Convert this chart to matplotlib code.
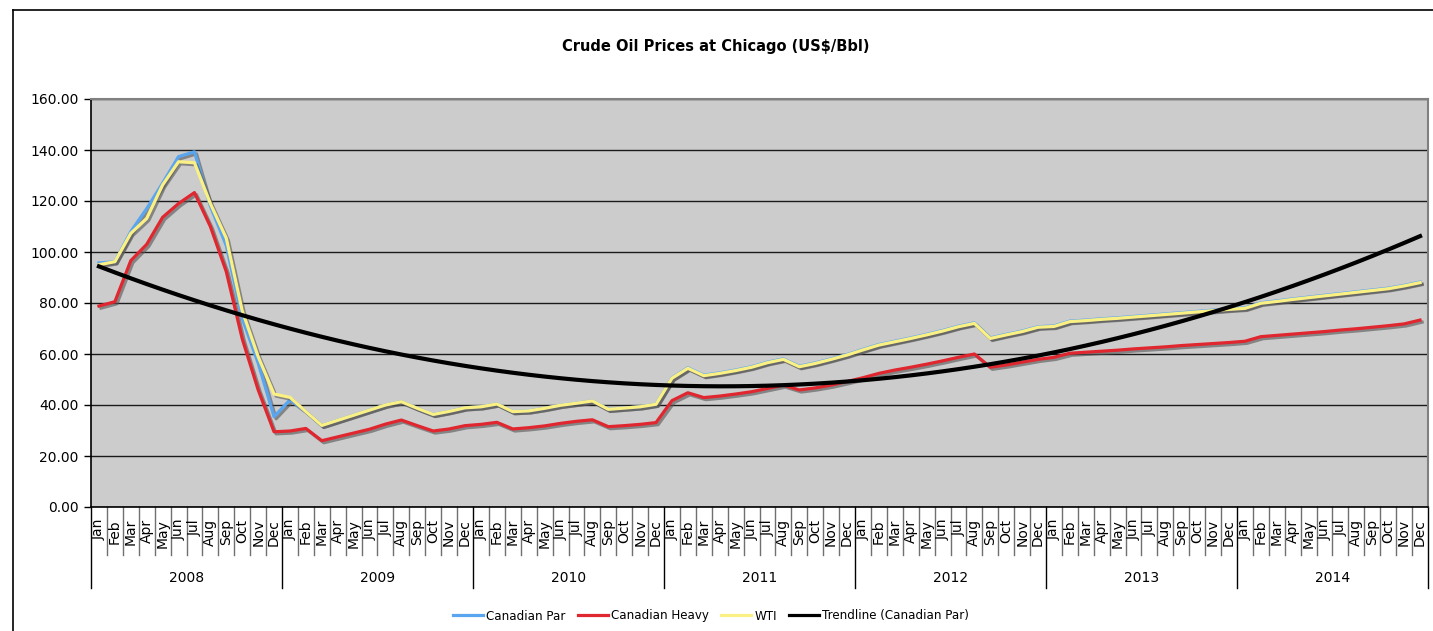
#Crude oil prices at Chicago, monthly 2008-2014
import matplotlib
matplotlib.use('Agg')
import matplotlib.pyplot as plt
import matplotlib.patheffects as pe
import matplotlib.transforms as mtransforms
from matplotlib.lines import Line2D
import numpy as np

plt.rc('font', family='DejaVu Sans')

years = ['2008', '2009', '2010', '2011', '2012', '2013', '2014']
months = ['Jan', 'Feb', 'Mar', 'Apr', 'May', 'Jun',
          'Jul', 'Aug', 'Sep', 'Oct', 'Nov', 'Dec']

#Values, US$/Bbl
wti = [95.0, 96.2, 107.3, 113.2, 126.3, 135.4, 135.0, 119.0, 105.4, 77.0, 59.0, 44.3,
       43.0, 37.4, 32.0, 34.0, 36.0, 38.0, 40.0, 41.3, 38.7, 36.3, 37.5, 38.9,
       39.3, 40.4, 37.4, 37.7, 38.7, 39.9, 40.7, 41.6, 38.3, 38.8, 39.3, 40.3,
       50.5, 54.4, 51.5, 52.4, 53.5, 54.8, 56.6, 57.9, 55.0, 56.3, 57.9, 59.6,
       61.6, 63.5, 64.8, 66.1, 67.5, 69.0, 70.7, 72.0, 66.1, 67.5, 68.8, 70.5,
       70.8, 72.7, 73.1, 73.6, 74.0, 74.5, 75.0, 75.5, 76.0, 76.5, 77.0, 77.5,
       77.9, 79.9, 80.6, 81.4, 82.1, 82.8, 83.5, 84.2, 84.9, 85.6, 86.7, 88.0]

can_par = [95.7, 96.2, 108.0, 117.0, 127.0, 137.4, 139.3, 118.0, 102.5, 74.0, 56.5, 35.4,
           42.0, 37.4, 32.0, 34.0, 36.0, 38.0, 40.0, 41.3, 38.7, 36.3, 37.5, 38.9,
           39.3, 40.4, 37.4, 37.7, 38.7, 39.9, 40.7, 41.6, 38.3, 38.8, 39.3, 40.3,
           50.6, 54.6, 51.7, 52.6, 53.7, 55.0, 56.8, 58.1, 55.2, 56.5, 58.1, 59.8,
           61.8, 63.7, 65.0, 66.3, 67.7, 69.2, 70.9, 72.2, 66.3, 67.7, 69.0, 70.7,
           71.0, 72.9, 73.3, 73.8, 74.2, 74.7, 75.2, 75.7, 76.2, 76.7, 77.2, 77.7,
           78.1, 80.1, 80.8, 81.6, 82.3, 83.0, 83.7, 84.4, 85.1, 85.8, 86.9, 88.2]

can_heavy = [78.8, 80.5, 96.6, 103.0, 113.6, 119.0, 123.3, 110.0, 92.3, 66.0, 46.0, 29.5,
             29.8, 30.8, 26.0, 27.5, 29.0, 30.5, 32.5, 34.1, 31.9, 29.8, 30.6, 31.9,
             32.4, 33.2, 30.6, 31.1, 31.8, 32.8, 33.6, 34.2, 31.5, 31.9, 32.4, 33.1,
             41.7, 44.8, 42.9, 43.5, 44.3, 45.2, 46.5, 47.8, 45.9, 46.7, 47.8, 49.2,
             50.7, 52.4, 53.7, 54.8, 56.0, 57.3, 58.7, 60.0, 54.8, 55.7, 56.8, 57.9,
             58.7, 60.3, 60.7, 61.1, 61.5, 62.0, 62.4, 62.8, 63.3, 63.7, 64.1, 64.5,
             65.0, 66.8, 67.3, 67.8, 68.3, 68.8, 69.4, 69.9, 70.5, 71.1, 71.8, 73.3]

n = len(wti)
x = np.arange(n)

#2nd order polynomial trendline of Canadian Par (as in the spreadsheet)
coef = np.polyfit(x, can_par, 2)
trend = np.polyval(coef, x)

fig = plt.figure(figsize=(14.33, 6.31), dpi=100)
ax = fig.add_axes([91/1433, 1 - 507/631, (1428 - 91)/1433, (507 - 99)/631])
ax.set_facecolor('#CCCCCC')

c_par, c_heavy, c_wti = '#5AA5F0', '#E0262E', '#FAF084'
shadow = [pe.SimpleLineShadow(offset=(1.5, -1.5), shadow_color='#555555', alpha=0.6), pe.Normal()]
ax.plot(x, can_par, color=c_par, lw=2.3, path_effects=shadow, zorder=3)
ax.plot(x, can_heavy, color=c_heavy, lw=2.3, path_effects=shadow, zorder=4)
ax.plot(x, wti, color=c_wti, lw=2.3, path_effects=shadow, zorder=5)
ax.plot(x, trend, color='black', lw=3.0, zorder=6)

ax.set_xlim(-0.5, n - 0.5)
ax.set_ylim(0, 160)
ax.set_yticks(np.arange(0, 161, 20))
ax.set_yticklabels(['%.2f' % v for v in np.arange(0, 161, 20)], fontsize=10)
ax.yaxis.grid(True, color='#1a1a1a', lw=1.0)
ax.set_axisbelow(True)
ax.tick_params(axis='y', length=5, width=1, pad=4)
ax.set_xticks([])

for side in ['top', 'right']:
    ax.spines[side].set_color('#808080')
    ax.spines[side].set_linewidth(1.5)
ax.spines['left'].set_linewidth(1.2)
ax.spines['bottom'].set_linewidth(1.2)

#Two-level category axis: months, then years
trans = mtransforms.blended_transform_factory(ax.transData, ax.transAxes)
for i in range(n + 1):
    if i % 12 == 0:
        ax.plot([i - 0.5, i - 0.5], [0, -81/408], color='black', lw=1.0,
                transform=trans, clip_on=False)
    else:
        ax.plot([i - 0.5, i - 0.5], [0, -48/408], color='#707070', lw=1.0,
                transform=trans, clip_on=False)
for i in range(n):
    ax.text(i, -12/408, months[i % 12], transform=trans, rotation=90,
            ha='center', va='top', fontsize=10)
for k, yr in enumerate(years):
    ax.text(12*k + 5.5, -71/408, yr, transform=trans, ha='center', va='center', fontsize=10)

fig.text(716/1433, 1 - 46/631, 'Crude Oil Prices at Chicago (US$/Bbl)',
         ha='center', va='center', fontsize=10.5, fontweight='bold')

#Outer chart frame
fig.add_artist(Line2D([12.5/1433, 12.5/1433], [0, 1 - 10/631], color='black', lw=1.2,
                      transform=fig.transFigure))
fig.add_artist(Line2D([12.5/1433, 1], [1 - 10/631, 1 - 10/631], color='black', lw=1.2,
                      transform=fig.transFigure))

#Legend with plain line keys (no shadows)
handles = [Line2D([], [], color=c_par, lw=2.3), Line2D([], [], color=c_heavy, lw=2.3),
           Line2D([], [], color=c_wti, lw=2.3), Line2D([], [], color='black', lw=2.3)]
labels = ['Canadian Par', 'Canadian Heavy', 'WTI', 'Trendline (Canadian Par)']
fig.legend(handles, labels, loc='center', bbox_to_anchor=(711/1433, 1 - 616/631), ncol=4,
           frameon=False, fontsize=8.6, handlelength=2.5, columnspacing=1.0,
           handletextpad=0.3)

plt.savefig('out.png', dpi=100)
